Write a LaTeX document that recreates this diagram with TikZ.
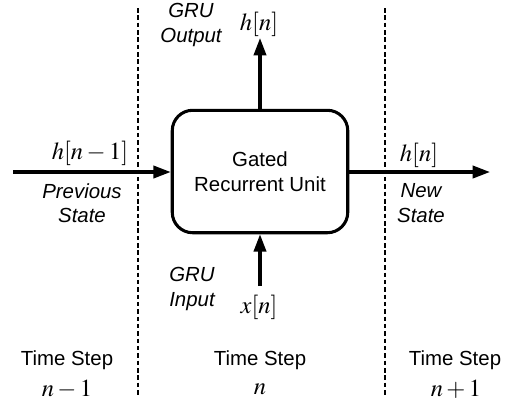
\documentclass[tikz,border=0pt]{standalone}
\usepackage{mathptmx}
\usepackage[no-math]{fontspec}
\setmainfont{Liberation Sans}
\usetikzlibrary{arrows.meta}

\tikzset{
  flow/.style={line width=1.5pt, -{Triangle[length=8.5pt,width=6pt]}},
  sep/.style={line width=0.75pt, dash pattern=on 2.2pt off 1.4pt},
  unit/.style={draw, line width=1.5pt, rounded corners=10pt,
               minimum width=86pt, minimum height=60pt, align=center},
  note/.style={font=\itshape, align=center},
  sig/.style={font=\large},
}

\begin{document}
\begin{tikzpicture}[x=0.49pt, y=-0.49pt]
            \useasboundingbox (0,0) rectangle (519,408);

            % time step boundaries
            \coordinate (sepAtop) at (138,8);
            \coordinate (sepAbot) at (138,395);
            \coordinate (sepBtop) at (385,8);
            \coordinate (sepBbot) at (385,395);
            \draw[sep] (sepAtop) -- (sepAbot);
            \draw[sep] (sepBtop) -- (sepBbot);

            \node[unit] (gru) at (260,171.5) {Gated\\Recurrent Unit};

            \coordinate (prev) at (13,172);
            \coordinate (next) at (490,172);
            \coordinate (out) at (260,38);
            \coordinate (in) at (260,286);

            \draw[flow] (prev) -- (prev -| gru.west);
            \draw[flow] (next -| gru.east) -- (next);
            \draw[flow] (gru.north) -- (out);
            \draw[flow] (in) -- (gru.south);

            \node[sig] (hprev) at (90,153) {$h[n-1]$};
            \node[note] (prevlbl) at (82,203) {Previous\\State};
            \node[sig] (hnext) at (419,155) {$h[n]$};
            \node[note] (newlbl) at (421,203) {New\\State};
            \node[note] (outlbl) at (191,25) {GRU\\Output};
            \node[sig] (hout) at (259,24) {$h[n]$};
            \node[note] (inlbl) at (192,289) {GRU\\Input};
            \node[sig] (xin) at (259,307) {$x[n]$};

            \node (stepA) at (67,360) {Time Step};
            \node[sig] (nA) at (67,389) {$n-1$};
            \node (stepB) at (260,360) {Time Step};
            \node[sig] (nB) at (260,389) {$n$};
            \node (stepC) at (455,360) {Time Step};
            \node[sig] (nC) at (456,389) {$n+1$};
         \end{tikzpicture}
\end{document}
